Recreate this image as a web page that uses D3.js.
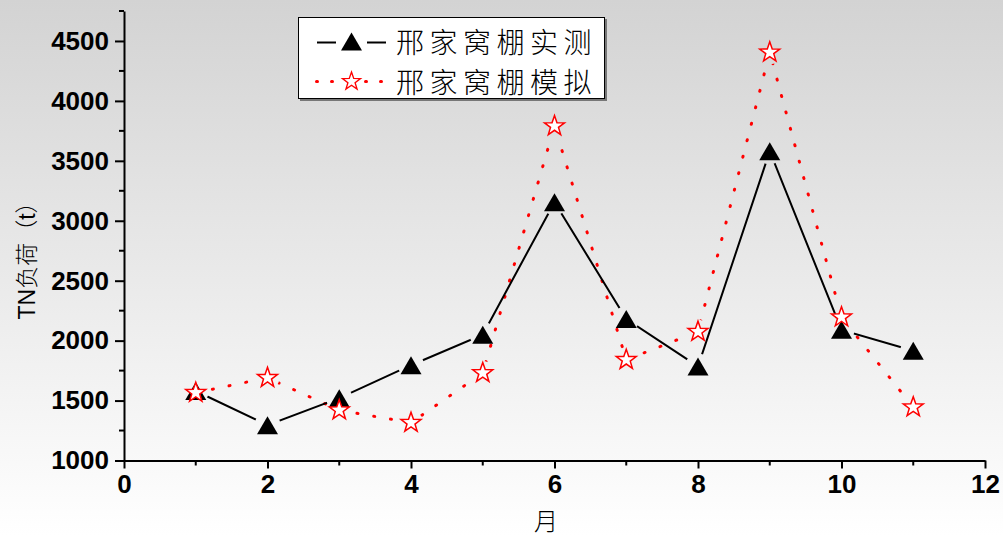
<!DOCTYPE html>
<html>
<head>
<meta charset="utf-8">
<script src="https://cdn.jsdelivr.net/npm/d3@7/dist/d3.min.js"></script>
<style>
  html, body { margin: 0; padding: 0; background: #fff; }
  svg { display: block; }
</style>
</head>
<body>
<svg id="chart" width="1003" height="536"></svg>
<script>
// Monthly TN load at 邢家窝棚: measured vs simulated
const months = [1, 2, 3, 4, 5, 6, 7, 8, 9, 10, 11];
const measured = [1580, 1295, 1520, 1795, 2050, 3155, 2180, 1785, 3580, 2090, 1915];
const simulated = [1565, 1690, 1420, 1315, 1730, 3790, 1840, 2075, 4405, 2195, 1445];
const xMajorTicks = [0, 2, 4, 6, 8, 10, 12];
const xMinorTicks = [1, 3, 5, 7, 9, 11];
const yMajorTicks = [1000, 1500, 2000, 2500, 3000, 3500, 4000, 4500];
const yMinorTicks = [1250, 1750, 2250, 2750, 3250, 3750, 4250, 4750];
const seriesNames = ["邢家窝棚实测", "邢家窝棚模拟"];
const xTitle = "月";
const yTitle = "TN负荷（t）";

const W = 1003, H = 536;
const svg = d3.select("#chart");
const defs = svg.append("defs");

// background: vertical grey-to-white wash
const bg = defs.append("linearGradient").attr("id", "bgGrad")
  .attr("x1", 0).attr("y1", 0).attr("x2", 0).attr("y2", 1);
bg.append("stop").attr("offset", "0%").attr("stop-color", "#d3d3d3");
bg.append("stop").attr("offset", "100%").attr("stop-color", "#ffffff");
svg.append("rect").attr("width", W).attr("height", H).attr("fill", "url(#bgGrad)");

const x = d3.scaleLinear().domain([0, 12]).range([124, 985]);
const y = d3.scaleLinear().domain([1000, 4750]).range([460.5, 11]);

const tickFont = "'Liberation Sans', Arial, sans-serif";

// ---- axes ----
const yAxis = svg.append("g").attr("transform", `translate(${x(0)},0)`)
  .call(d3.axisLeft(y).tickValues(yMajorTicks).tickSize(9).tickSizeOuter(0).tickPadding(6)
    .tickFormat(d3.format("d")));
yAxis.selectAll("line").attr("stroke", "#000").attr("stroke-width", 2);
yAxis.select(".domain").attr("stroke", "#000").attr("stroke-width", 2);
yAxis.selectAll("text").attr("font-family", tickFont).attr("font-weight", "bold")
  .attr("font-size", 26).attr("fill", "#000");
yAxis.selectAll(".minor").data(yMinorTicks).enter().append("line")
  .attr("class", "minor").attr("x1", -5).attr("x2", 0)
  .attr("y1", d => y(d)).attr("y2", d => y(d))
  .attr("stroke", "#000").attr("stroke-width", 2);

const xAxis = svg.append("g").attr("transform", `translate(0,${y(1000)})`)
  .call(d3.axisBottom(x).tickValues(xMajorTicks).tickSize(8).tickSizeOuter(0).tickPadding(6)
    .tickFormat(d3.format("d")));
xAxis.selectAll("line").attr("stroke", "#000").attr("stroke-width", 2);
xAxis.select(".domain").attr("stroke", "#000").attr("stroke-width", 2);
xAxis.selectAll("text").attr("font-family", tickFont).attr("font-weight", "bold")
  .attr("font-size", 26).attr("fill", "#000");
xAxis.selectAll(".minor").data(xMinorTicks).enter().append("line")
  .attr("class", "minor").attr("y1", 0).attr("y2", 5)
  .attr("x1", d => x(d)).attr("x2", d => x(d))
  .attr("stroke", "#000").attr("stroke-width", 2);

// axis titles
svg.append("text").attr("transform", "translate(35,255) rotate(-90)")
  .attr("text-anchor", "middle")
  .attr("font-family", "'Liberation Sans', 'Noto Sans CJK SC', sans-serif")
  .attr("font-size", 23).attr("font-weight", 300).attr("fill", "#000")
  .text(yTitle);
svg.append("text").attr("x", 546).attr("y", 530)
  .attr("text-anchor", "middle")
  .attr("font-family", "'Noto Sans CJK SC', sans-serif")
  .attr("font-size", 24).attr("font-weight", 300).attr("fill", "#000")
  .text(xTitle);

// ---- markers ----
const triPath = "M0,-9L10.5,9L-10.5,9Z";
const starPath = (() => {
  const R = 10.5, r = 4.2, pts = [];
  for (let i = 0; i < 10; i++) {
    const a = -Math.PI / 2 + i * Math.PI / 5;
    const rad = i % 2 === 0 ? R : r;
    pts.push([rad * Math.cos(a), rad * Math.sin(a)]);
  }
  return "M" + pts.map(p => p[0].toFixed(2) + "," + p[1].toFixed(2)).join("L") + "Z";
})();

const measPts = months.map((m, i) => [x(m), y(measured[i])]);
const simPts = months.map((m, i) => [x(m), y(simulated[i])]);

// masks leave a small gap in the connecting lines around each symbol
function makeMask(id, pts, r) {
  const m = defs.append("mask").attr("id", id).attr("maskUnits", "userSpaceOnUse")
    .attr("x", 0).attr("y", 0).attr("width", W).attr("height", H);
  m.append("rect").attr("width", W).attr("height", H).attr("fill", "#fff");
  m.selectAll("circle").data(pts).enter().append("circle")
    .attr("cx", d => d[0]).attr("cy", d => d[1]).attr("r", r).attr("fill", "#000");
}
makeMask("measMask", measPts, 13);
makeMask("simMask", simPts, 12);

const line = d3.line();

svg.append("path").attr("d", line(simPts))
  .attr("fill", "none").attr("stroke", "#ff0000").attr("stroke-width", 3)
  .attr("stroke-linecap", "round").attr("stroke-dasharray", "1 16")
  .attr("mask", "url(#simMask)");

svg.append("path").attr("d", line(measPts))
  .attr("fill", "none").attr("stroke", "#000").attr("stroke-width", 2)
  .attr("mask", "url(#measMask)");

svg.append("g").selectAll("path").data(measPts).enter().append("path")
  .attr("d", triPath).attr("transform", d => `translate(${d[0]},${d[1]})`)
  .attr("fill", "#000");

svg.append("g").selectAll("path").data(simPts).enter().append("path")
  .attr("d", starPath).attr("transform", d => `translate(${d[0]},${d[1]})`)
  .attr("fill", "#fff").attr("stroke", "#ff0000").attr("stroke-width", 1.5)
  .attr("stroke-linejoin", "miter");

// ---- legend ----
const lg = svg.append("g");
lg.append("rect").attr("x", 300).attr("y", 19).attr("width", 307).attr("height", 82)
  .attr("fill", "#777");
lg.append("rect").attr("x", 298.5).attr("y", 17.5).attr("width", 306).attr("height", 81)
  .attr("fill", "#fff").attr("stroke", "#000").attr("stroke-width", 1);

const legY = [42.5, 81.5];
// measured entry
lg.append("line").attr("x1", 317).attr("x2", 336).attr("y1", legY[0]).attr("y2", legY[0])
  .attr("stroke", "#000").attr("stroke-width", 2);
lg.append("line").attr("x1", 367).attr("x2", 386).attr("y1", legY[0]).attr("y2", legY[0])
  .attr("stroke", "#000").attr("stroke-width", 2);
lg.append("path").attr("d", triPath).attr("transform", `translate(351.5,${legY[0] - 1})`)
  .attr("fill", "#000");
// simulated entry
[317, 332, 366, 381].forEach(px => {
  lg.append("line").attr("x1", px - 0.5).attr("x2", px + 0.5)
    .attr("y1", legY[1]).attr("y2", legY[1])
    .attr("stroke", "#ff0000").attr("stroke-width", 3).attr("stroke-linecap", "round");
});
lg.append("path").attr("d", starPath).attr("transform", `translate(351.5,${legY[1]}) scale(0.9)`)
  .attr("fill", "#fff").attr("stroke", "#ff0000").attr("stroke-width", 1.5);

lg.selectAll("text.lab").data(seriesNames).enter().append("text")
  .attr("class", "lab")
  .attr("x", 396).attr("y", (d, i) => [52.5, 93][i])
  .attr("font-family", "'Noto Sans CJK SC', sans-serif")
  .attr("font-size", 28).attr("font-weight", 300).attr("letter-spacing", 5.5)
  .attr("fill", "#000")
  .text(d => d);
</script>
</body>
</html>
